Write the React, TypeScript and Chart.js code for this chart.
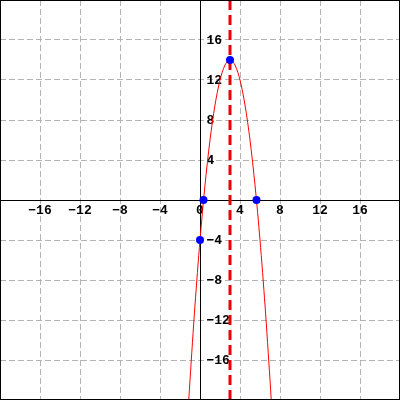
import React, { useEffect, useRef } from "react";
import { Chart, registerables } from "chart.js";

Chart.register(...registerables);

const curveX = [-1.25, -1, -0.5, 0, 0.5, 1, 1.5, 2, 2.5, 3, 3.5, 4, 4.5, 5, 5.5, 6, 6.5, 7, 7.25];
const curveY = [-22.1, -18, -10.5, -4, 1.5, 6, 9.5, 12, 13.5, 14, 13.5, 12, 9.5, 6, 1.5, -4, -10.5, -18, -22.1];
const pointX = [0, 0.35, 5.65, 3];
const pointY = [-4, 0, 0, 14];
const axisLineX = [3, 3];
const axisLineY = [-20, 20];
const xTickLabels = [-16, -12, -8, -4, 0, 4, 8, 12, 16];
const yTickLabels = [16, 12, 8, 4, -4, -8, -12, -16];

const overlayPlugin = {
  id: "overlay",
  beforeDatasetsDraw(chart: any) {
    const { ctx, scales, chartArea } = chart;
    const xs = scales.x;
    const ys = scales.y;
    const x0 = Math.round(xs.getPixelForValue(0)) + 0.5;
    const y0 = Math.round(ys.getPixelForValue(0)) + 0.5;
    ctx.save();
    ctx.strokeStyle = "#000";
    ctx.lineWidth = 1;
    ctx.setLineDash([]);
    ctx.beginPath();
    ctx.moveTo(x0, chartArea.top);
    ctx.lineTo(x0, chartArea.bottom);
    ctx.moveTo(chartArea.left, y0);
    ctx.lineTo(chartArea.right, y0);
    ctx.stroke();
    ctx.fillStyle = "#000";
    ctx.font = "bold 13px 'Liberation Mono', 'DejaVu Sans Mono', monospace";
    ctx.textAlign = "center";
    ctx.textBaseline = "top";
    xTickLabels.forEach((v) => {
      ctx.fillText(String(v).replace("-", "\u2212"), xs.getPixelForValue(v), y0 + 4);
    });
    ctx.textAlign = "left";
    ctx.textBaseline = "middle";
    yTickLabels.forEach((v) => {
      ctx.fillText(String(v).replace("-", "\u2212"), x0 + 6, ys.getPixelForValue(v) + 1);
    });
    ctx.restore();
  },
  afterDraw(chart: any) {
    const { ctx, width, height } = chart;
    ctx.save();
    ctx.strokeStyle = "#000";
    ctx.lineWidth = 1;
    ctx.setLineDash([]);
    ctx.strokeRect(0.5, 0.5, width - 1, height - 1);
    ctx.restore();
  },
};

export default function App() {
  const ref = useRef<HTMLCanvasElement | null>(null);
  useEffect(() => {
    document.body.style.margin = "0";
    const canvas = ref.current;
    if (!canvas) return;
    const chart = new Chart(canvas, {
      type: "scatter",
      data: {
        datasets: [
          {
            data: pointX.map((x, i) => ({ x, y: pointY[i] })),
            showLine: false,
            pointRadius: 4,
            pointBackgroundColor: "#0000ff",
            pointBorderWidth: 0,
            order: 0,
          } as any,
          {
            data: axisLineX.map((x, i) => ({ x, y: axisLineY[i] })),
            showLine: true,
            borderColor: "#ee0000",
            borderWidth: 3,
            borderDash: [10, 5],
            pointRadius: 0,
            order: 1,
          },
          {
            data: curveX.map((x, i) => ({ x, y: curveY[i] })),
            showLine: true,
            borderColor: "#ff0000",
            borderWidth: 1,
            tension: 0.3,
            pointRadius: 0,
            order: 2,
          },
        ],
      },
      options: {
        animation: false,
        responsive: false,
        maintainAspectRatio: false,
        layout: { padding: 0, autoPadding: false },
        plugins: { legend: { display: false }, tooltip: { enabled: false } },
        scales: {
          x: {
            type: "linear",
            min: -20,
            max: 20,
            ticks: { display: false, stepSize: 4 },
            grid: { color: "#b4b4b4", drawTicks: false, lineWidth: 1 },
            border: { display: false, dash: [6, 3] },
          },
          y: {
            type: "linear",
            min: -20,
            max: 20,
            ticks: { display: false, stepSize: 4 },
            grid: { color: "#b4b4b4", drawTicks: false, lineWidth: 1 },
            border: { display: false, dash: [6, 3] },
          },
        },
      },
      plugins: [overlayPlugin],
    });
    return () => chart.destroy();
  }, []);
  return <canvas ref={ref} width={400} height={400} style={{ display: "block" }} />;
}
